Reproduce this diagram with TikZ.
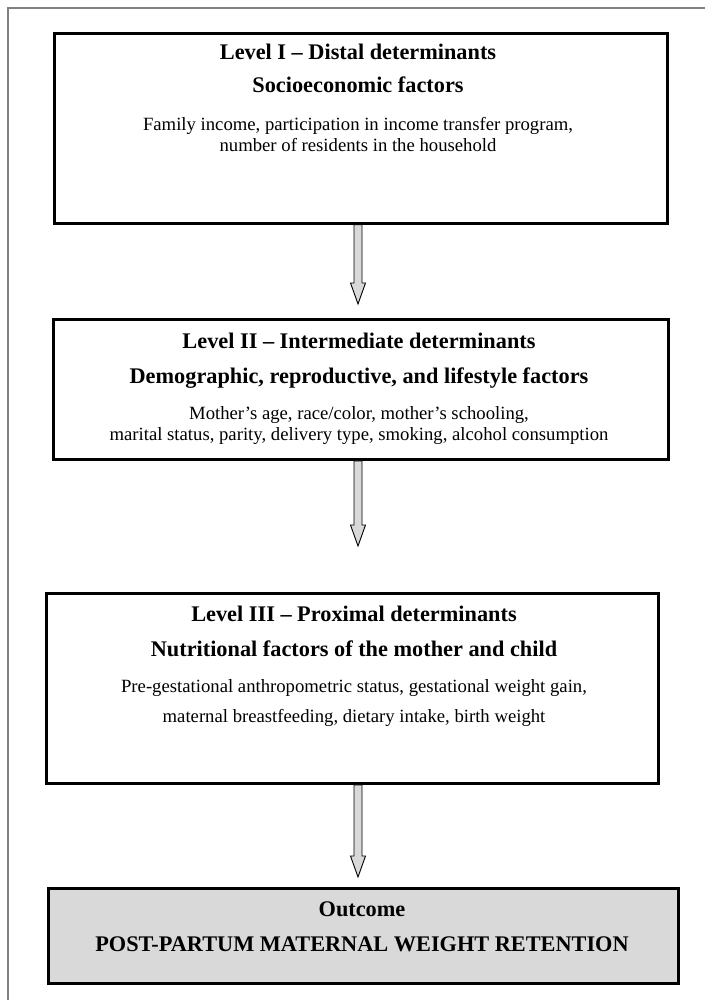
\documentclass[tikz,border=0pt]{standalone}
\usepackage{fontspec}
\setmainfont{Liberation Serif}
\usetikzlibrary{calc}
\tikzset{
  x=1pt, y=-1pt,
  box/.style={draw=black, line width=2.8pt, rectangle, anchor=north west, inner sep=0pt},
  outbox/.style={box, fill=black!15},
  head/.style={anchor=base, inner sep=0pt, font=\fontsize{22.3}{26}\selectfont\bfseries},
  body/.style={anchor=base, inner sep=0pt, font=\fontsize{18.7}{22}\selectfont},
  fat/.style={draw=black, line width=0.9pt, fill=black!15, line join=miter},
  frame/.style={draw=black!50, line width=1.6pt}
}
\newcommand\fatarrow[2]{%
  \draw[fat] let \p1=(#1), \p2=(#2) in
    (358-4,\y1) -- (358+4,\y1) -- (358+4,\y2+21) -- (358+7.5,\y2+21) -- (358,\y2)
    -- (358-7.5,\y2+21) -- (358-4,\y2+21) -- cycle;}
\begin{document}
\begin{tikzpicture}
\useasboundingbox (0,0) rectangle (704,1000);
\coordinate (fa) at (8,1005);
\coordinate (fb) at (8,8);
\coordinate (fc) at (710,8);
\draw[frame] (fa) -- (fb) -- (fc);

\node[box, minimum width=613pt, minimum height=190pt] (b1) at (53,32) {};
\node[box, minimum width=615pt, minimum height=140pt] (b2) at (52,318) {};
\node[box, minimum width=612pt, minimum height=190pt] (b3) at (45,592) {};
\node[outbox, minimum width=630pt, minimum height=95pt] (b4) at (47,887) {};

\node[head] (t11) at (358,60) {Level I – Distal determinants};
\node[head] (t12) at (358,93) {Socioeconomic factors};
\node[body] (t13) at (358,130.5) {Family income, participation in income transfer program,};
\node[body] (t14) at (358,151.5) {number of residents in the household};

\node[head] (t21) at (359,348) {Level II – Intermediate determinants};
\node[head] (t22) at (359,383) {Demographic, reproductive, and lifestyle factors};
\node[body] (t23) at (359,419.5) {Mother’s age, race/color, mother’s schooling,};
\node[body] (t24) at (359,440.5) {marital status, parity, delivery type, smoking, alcohol consumption};

\node[head] (t31) at (354,621) {Level III – Proximal determinants};
\node[head] (t32) at (354,656) {Nutritional factors of the mother and child};
\node[body] (t33) at (354,692.5) {Pre-gestational anthropometric status, gestational weight gain,};
\node[body] (t34) at (354,722.5) {maternal breastfeeding, dietary intake, birth weight};

\node[head] (t41) at (362,916) {Outcome};
\node[head] (t42) at (362,951) {POST-PARTUM MATERNAL WEIGHT RETENTION};

\coordinate (a1) at (358,304);
\coordinate (a2) at (358,546);
\coordinate (a3) at (358,877);
\fatarrow{b1.south}{a1}
\fatarrow{b2.south}{a2}
\fatarrow{b3.south}{a3}
\end{tikzpicture}
\end{document}
